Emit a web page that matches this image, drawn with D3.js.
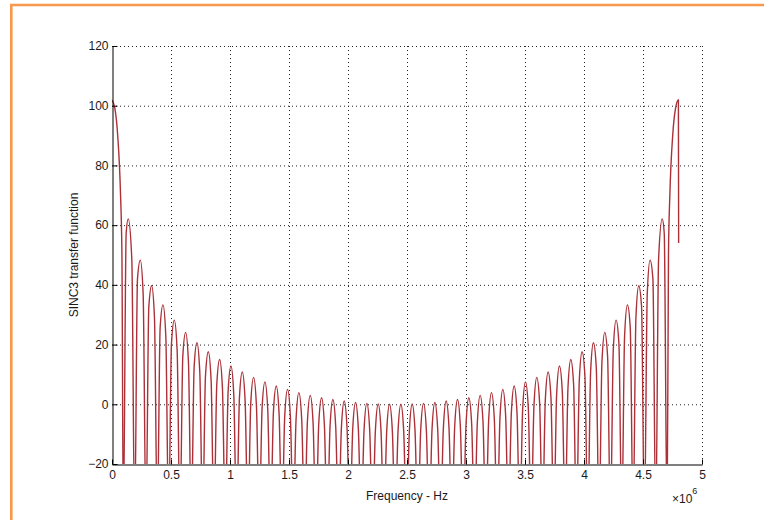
<!DOCTYPE html>
<html>
<head>
<meta charset="utf-8">
<script src="https://cdn.jsdelivr.net/npm/d3@7"></script>
<style>
  body { margin: 0; background: #fff; }
  text { font-family: "Liberation Sans", Arial, sans-serif; fill: #1a1a1a; }
</style>
</head>
<body>
<svg id="chart" width="764" height="520"></svg>
<script>
// frequency samples (MHz), one lobe per line
const freqMHz = [
  0, 0.024, 0.048, 0.072, 0.084, 0.096,
  0.12, 0.1373, 0.168, 0.192,
  0.216, 0.24, 0.264, 0.288,
  0.312, 0.336, 0.36, 0.384,
  0.408, 0.432, 0.456, 0.48,
  0.504, 0.528, 0.552, 0.576,
  0.6, 0.624, 0.648, 0.672,
  0.696, 0.72, 0.744, 0.768,
  0.792, 0.816, 0.84, 0.864,
  0.888, 0.912, 0.936, 0.96,
  0.984, 1.008, 1.032, 1.056,
  1.08, 1.104, 1.128, 1.152,
  1.176, 1.2, 1.224, 1.248,
  1.272, 1.296, 1.32, 1.344,
  1.368, 1.392, 1.416, 1.44,
  1.464, 1.488, 1.512, 1.536,
  1.56, 1.584, 1.608, 1.632,
  1.656, 1.68, 1.704, 1.728,
  1.752, 1.776, 1.8, 1.824,
  1.848, 1.872, 1.896, 1.92,
  1.944, 1.968, 1.992, 2.016,
  2.04, 2.064, 2.088, 2.112,
  2.136, 2.16, 2.184, 2.208,
  2.232, 2.256, 2.28, 2.304,
  2.328, 2.352, 2.376, 2.4,
  2.424, 2.448, 2.472, 2.496,
  2.52, 2.544, 2.568, 2.592,
  2.616, 2.64, 2.664, 2.688,
  2.712, 2.736, 2.76, 2.784,
  2.808, 2.832, 2.856, 2.88,
  2.904, 2.928, 2.952, 2.976,
  3.0, 3.024, 3.048, 3.072,
  3.096, 3.12, 3.144, 3.168,
  3.192, 3.216, 3.24, 3.264,
  3.288, 3.312, 3.336, 3.36,
  3.384, 3.408, 3.432, 3.456,
  3.48, 3.504, 3.528, 3.552,
  3.576, 3.6, 3.624, 3.648,
  3.672, 3.696, 3.72, 3.744,
  3.768, 3.792, 3.816, 3.84,
  3.864, 3.888, 3.912, 3.936,
  3.96, 3.984, 4.008, 4.032,
  4.056, 4.08, 4.104, 4.128,
  4.152, 4.176, 4.2, 4.224,
  4.248, 4.272, 4.296, 4.32,
  4.344, 4.368, 4.392, 4.416,
  4.44, 4.464, 4.488, 4.512,
  4.536, 4.56, 4.584, 4.608,
  4.632, 4.6627, 4.68, 4.704,
  4.716, 4.728, 4.752, 4.776, 4.8, 4.802
];

// transfer function level at those samples (nulls fall below the axis)
const levelDb = [
  101.9, 99.2, 90.2, 70.6, 50.6, -40,
  57.3, 62.1, 48.5, -40,
  42.0, 48.3, 36.9, -40,
  32.6, 39.7, 28.9, -40,
  25.7, 33.3, 22.9, -40,
  20.3, 28.2, 18.1, -40,
  16.0, 24.1, 14.1, -40,
  12.4, 20.6, 10.8, -40,
  9.3, 17.6, 7.9, -40,
  6.6, 15.0, 5.4, -40,
  4.3, 12.8, 3.2, -40,
  2.2, 10.8, 1.3, -40,
  0.4, 9.0, -0.4, -40,
  -1.2, 7.5, -1.9, -40,
  -2.6, 6.1, -3.2, -40,
  -3.8, 5.0, -4.4, -40,
  -4.9, 3.9, -5.4, -40,
  -5.8, 3.0, -6.2, -40,
  -6.6, 2.2, -7.0, -40,
  -7.3, 1.6, -7.6, -40,
  -7.9, 1.1, -8.1, -40,
  -8.3, 0.6, -8.5, -40,
  -8.6, 0.3, -8.8, -40,
  -8.9, 0.1, -9.0, -40,
  -9.0, 0.0, -9.0, -40,
  -9.0, 0.0, -9.0, -40,
  -9.0, 0.1, -8.9, -40,
  -8.8, 0.3, -8.6, -40,
  -8.5, 0.6, -8.3, -40,
  -8.1, 1.1, -7.9, -40,
  -7.6, 1.6, -7.3, -40,
  -7.0, 2.2, -6.6, -40,
  -6.2, 3.0, -5.8, -40,
  -5.4, 3.9, -4.9, -40,
  -4.4, 5.0, -3.8, -40,
  -3.2, 6.1, -2.6, -40,
  -1.9, 7.5, -1.2, -40,
  -0.4, 9.0, 0.4, -40,
  1.3, 10.8, 2.2, -40,
  3.2, 12.8, 4.3, -40,
  5.4, 15.0, 6.6, -40,
  7.9, 17.6, 9.3, -40,
  10.8, 20.6, 12.4, -40,
  14.1, 24.1, 16.0, -40,
  18.1, 28.2, 20.3, -40,
  22.9, 33.3, 25.7, -40,
  28.9, 39.7, 32.6, -40,
  36.9, 48.3, 42.0, -40,
  48.5, 62.1, 57.3, -40,
  50.6, 70.6, 90.2, 99.2, 101.9, 54
];

const xTicks = [0, 0.5, 1, 1.5, 2, 2.5, 3, 3.5, 4, 4.5, 5];
const xTickLabels = ["0", "0.5", "1", "1.5", "2", "2.5", "3", "3.5", "4", "4.5", "5"];
const yTicks = [-20, 0, 20, 40, 60, 80, 100, 120];
const yTickLabels = ["\u221220", "0", "20", "40", "60", "80", "100", "120"];

const margin = { top: 46, left: 112, right: 62, bottom: 56 };
const W = 764, H = 520;
const width = W - margin.left - margin.right;
const height = H - margin.top - margin.bottom;

const svg = d3.select("#chart");
svg.append("rect").attr("width", W).attr("height", H).attr("fill", "#fff");

// orange frame (top and left edges)
svg.append("path")
  .attr("d", "M11.3,520V5H764")
  .attr("fill", "none")
  .attr("stroke", "#f7984c")
  .attr("stroke-width", 2.6);

const g = svg.append("g").attr("transform", `translate(${margin.left},${margin.top})`);

const x = d3.scaleLinear().domain([0, 5]).range([0, width]);
const y = d3.scaleLinear().domain([-20, 120]).range([height, 0]);

g.append("clipPath").attr("id", "plotClip")
  .append("rect").attr("width", width).attr("height", height);

// dotted grid
g.append("g").selectAll("line")
  .data(xTicks.slice(1))
  .join("line")
  .attr("x1", d => x(d) + 0.5).attr("x2", d => x(d) + 0.5)
  .attr("y1", 0).attr("y2", height)
  .attr("stroke", "#222").attr("stroke-width", 1)
  .attr("stroke-dasharray", "1,3");

g.append("g").selectAll("line")
  .data(yTicks.slice(1))
  .join("line")
  .attr("x1", 0).attr("x2", width)
  .attr("y1", d => y(d) + 0.5).attr("y2", d => y(d) + 0.5)
  .attr("stroke", "#222").attr("stroke-width", 1)
  .attr("stroke-dasharray", "1,3");

// the transfer function curve
const pts = freqMHz.map((f, i) => ({ f: f, v: levelDb[i] }));
const line = d3.line()
  .x(d => x(d.f))
  .y(d => y(d.v))
  .curve(d3.curveMonotoneX);

g.append("path")
  .datum(pts)
  .attr("clip-path", "url(#plotClip)")
  .attr("d", line)
  .attr("fill", "none")
  .attr("stroke", "#ac3038")
  .attr("stroke-width", 1.4);

// axes
const yAxis = d3.axisLeft(y)
  .tickValues(yTicks)
  .tickFormat((d, i) => yTickLabels[i])
  .tickSizeInner(-5)
  .tickSizeOuter(0)
  .tickPadding(4);

const xAxis = d3.axisBottom(x)
  .tickValues(xTicks)
  .tickFormat((d, i) => xTickLabels[i])
  .tickSizeInner(-5)
  .tickSizeOuter(0)
  .tickPadding(6);

const yg = g.append("g").attr("transform", "translate(0.5,0)").call(yAxis);
const xg = g.append("g").attr("transform", `translate(0,${height + 0.5})`).call(xAxis);

[yg, xg].forEach(a => {
  a.select(".domain").attr("stroke", "#000");
  a.selectAll(".tick line").attr("stroke", "#000");
  a.selectAll(".tick text")
    .attr("font-family", '"Liberation Sans", Arial, sans-serif')
    .attr("font-size", 12)
    .attr("fill", "#1a1a1a");
});

// labels
svg.append("text")
  .attr("x", margin.left + width / 2)
  .attr("y", 500)
  .attr("text-anchor", "middle")
  .attr("font-size", 12)
  .text("Frequency - Hz");

svg.append("text")
  .attr("transform", `translate(78,${margin.top + height / 2}) rotate(-90)`)
  .attr("text-anchor", "middle")
  .attr("font-size", 12)
  .text("SINC3 transfer function");

const ex = svg.append("text")
  .attr("x", 672)
  .attr("y", 503)
  .attr("font-size", 12);
ex.append("tspan").text("\u00d710");
ex.append("tspan").attr("dy", -9).attr("font-size", 9).text("6");
</script>
</body>
</html>
